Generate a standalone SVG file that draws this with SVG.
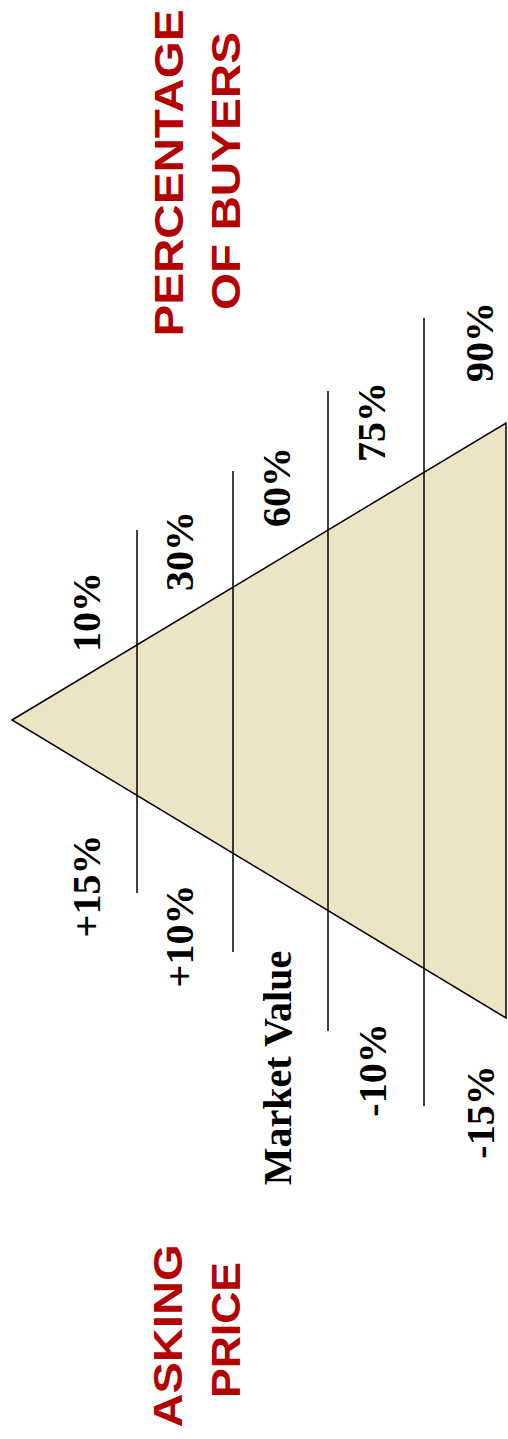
<svg xmlns="http://www.w3.org/2000/svg" width="508" height="1439" viewBox="0 0 508 1439">
<style>
.lbl{font-family:"Liberation Serif","Times New Roman",serif;font-weight:bold;font-size:40px;fill:#000;text-anchor:middle}
.ttl{font-family:"Liberation Sans",Arial,sans-serif;font-weight:bold;font-size:40px;fill:#b30000;text-anchor:middle}
.ln{stroke:#000;stroke-width:1.5;fill:none}
</style>
<rect width="508" height="1439" fill="#fff"/>
<g id="triangle">
<polygon points="12,720 506,423 506,1018" fill="#ede4c6" stroke="#000" stroke-width="1.5" stroke-linejoin="miter"/>
</g>
<g id="connectors">
<line class="ln" x1="137" y1="530" x2="137" y2="893"/>
<line class="ln" x1="233" y1="471" x2="233" y2="952"/>
<line class="ln" x1="328" y1="391" x2="328" y2="1031"/>
<line class="ln" x1="424" y1="318" x2="424" y2="1106"/>
</g>
<g id="buyers-labels">
<text class="lbl" transform="translate(100,612) rotate(-90)">10%</text>
<text class="lbl" transform="translate(193,551) rotate(-90)">30%</text>
<text class="lbl" transform="translate(290,487) rotate(-90)">60%</text>
<text class="lbl" transform="translate(385,422) rotate(-90)">75%</text>
<text class="lbl" transform="translate(493,342) rotate(-90)">90%</text>
</g>
<g id="price-labels">
<text class="lbl" transform="translate(100,886) rotate(-90)">+15%</text>
<text class="lbl" transform="translate(193,936) rotate(-90)">+10%</text>
<text class="lbl" transform="translate(291,1068) rotate(-90)">Market Value</text>
<text class="lbl" transform="translate(386,1070) rotate(-90)">-10%</text>
<text class="lbl" transform="translate(494,1112) rotate(-90)">-15%</text>
</g>
<g id="title-buyers">
<text class="ttl" transform="translate(183,173) rotate(-90)" textLength="327" lengthAdjust="spacingAndGlyphs">PERCENTAGE</text>
<text class="ttl" transform="translate(240,171) rotate(-90)" textLength="278" lengthAdjust="spacingAndGlyphs">OF BUYERS</text>
</g>
<g id="title-price">
<text class="ttl" transform="translate(182,1336) rotate(-90)" textLength="183" lengthAdjust="spacingAndGlyphs">ASKING</text>
<text class="ttl" transform="translate(240,1330) rotate(-90)" textLength="136" lengthAdjust="spacingAndGlyphs">PRICE</text>
</g>
</svg>
